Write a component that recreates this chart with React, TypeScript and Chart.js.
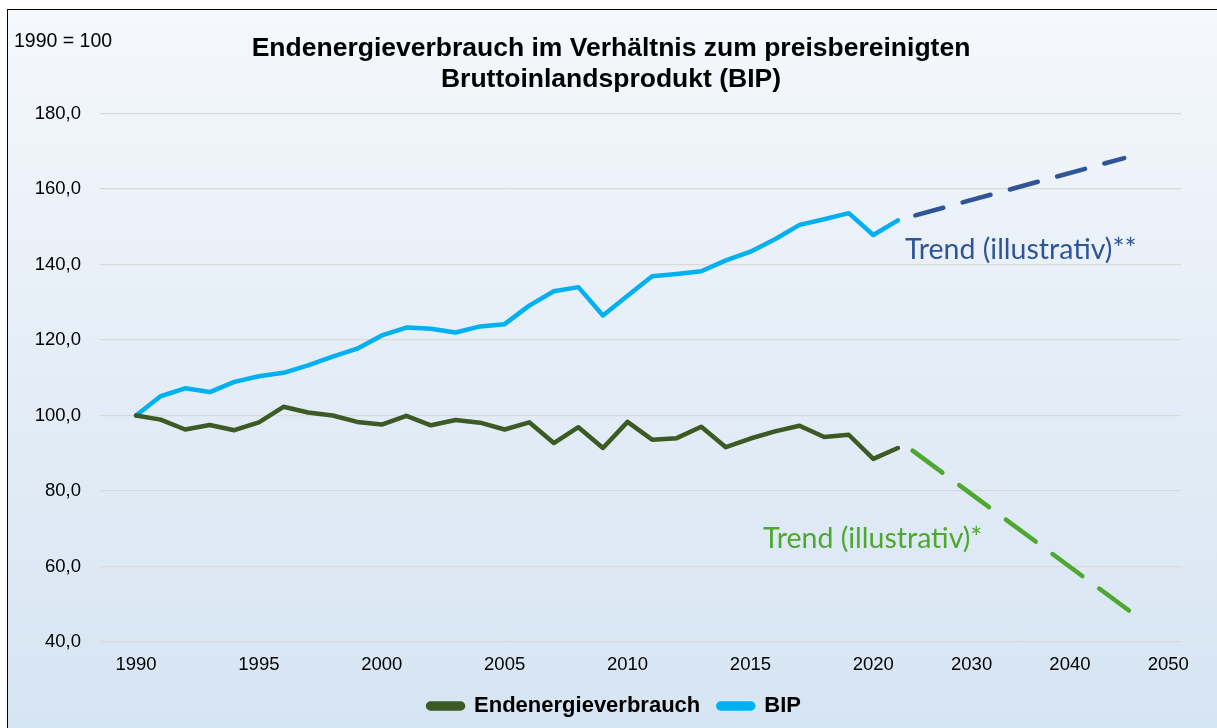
import React, { useEffect, useRef } from "react";
import { Chart, registerables } from "chart.js";

Chart.register(...registerables);

// ---- Data ----
const years: string[] = [
  "1990", "1991", "1992", "1993", "1994", "1995", "1996", "1997", "1998", "1999",
  "2000", "2001", "2002", "2003", "2004", "2005", "2006", "2007", "2008", "2009",
  "2010", "2011", "2012", "2013", "2014", "2015", "2016", "2017", "2018", "2019",
  "2020", "2021",
];

const bipValues: number[] = [
  100.0, 105.1, 107.2, 106.2, 108.9, 110.4, 111.3, 113.3, 115.6, 117.7,
  121.2, 123.3, 123.0, 122.0, 123.6, 124.2, 129.1, 132.9, 134.0, 126.5,
  131.7, 136.9, 137.5, 138.2, 141.1, 143.4, 146.7, 150.5, 152.0, 153.6,
  147.8, 151.7,
];

const energyValues: number[] = [
  100.0, 98.9, 96.3, 97.5, 96.1, 98.2, 102.3, 100.8, 100.0, 98.3,
  97.6, 99.9, 97.4, 98.8, 98.1, 96.3, 98.2, 92.7, 96.9, 91.4,
  98.3, 93.6, 94.0, 97.0, 91.6, 93.9, 95.8, 97.3, 94.3, 94.9,
  88.5, 91.4,
];

// illustrative trends (x in category-position units of the axis: 1990 = 0)
const bipTrendX: number[] = [31.71, 40.21];
const bipTrendY: number[] = [153.0, 168.2];
const energyTrendX: number[] = [31.6, 40.43];
const energyTrendY: number[] = [90.7, 48.2];

const xTickPositions: number[] = [0, 5, 10, 15, 20, 25, 30, 34, 38, 42];
const xTickLabels: string[] = ["1990", "1995", "2000", "2005", "2010", "2015", "2020", "2030", "2040", "2050"];

const titleLines: string[] = [
  "Endenergieverbrauch im Verhältnis zum preisbereinigten",
  "Bruttoinlandsprodukt (BIP)",
];
const unitLabel = "1990 = 100";
const bipTrendLabel = "Trend (illustrativ)**";
const energyTrendLabel = "Trend (illustrativ)*";

const COLOR_BIP = "#00B0F0";
const COLOR_ENERGY = "#3B5A24";
const COLOR_BIP_TREND = "#2F5597";
const COLOR_ENERGY_TREND = "#4EA72E";

const SANS = '"Liberation Sans", Arial, sans-serif';
const CALIBRI_LIKE = 'Lato, "Open Sans", sans-serif';

const textPlugin = {
  id: "textAnnotations",
  afterLayout(chart: any) {
    // center legend under the title like the original
    const lg = chart.legend;
    if (lg) {
      lg.left += 9;
      lg.right += 9;
    }
  },
  afterDraw(chart: any) {
    const ctx = chart.ctx as CanvasRenderingContext2D;
    const xs = chart.scales.x;
    const ys = chart.scales.y;
    ctx.save();
    ctx.fillStyle = "#000";
    ctx.textBaseline = "alphabetic";
    ctx.textAlign = "center";
    ctx.font = `bold 26.5px ${SANS}`;
    ctx.fillText(titleLines[0], 611, 56);
    ctx.fillText(titleLines[1], 611, 87);

    ctx.textAlign = "left";
    ctx.font = `19.5px ${SANS}`;
    ctx.fillText(unitLabel, 14, 47);

    ctx.font = `28.5px ${CALIBRI_LIKE}`;
    ctx.fillStyle = COLOR_BIP_TREND;
    ctx.fillText(bipTrendLabel, xs.getPixelForValue(31.29), ys.getPixelForValue(141.4));
    ctx.fillStyle = COLOR_ENERGY_TREND;
    ctx.fillText(energyTrendLabel, xs.getPixelForValue(25.51), ys.getPixelForValue(64.8));
    ctx.restore();
  },
};

export default function App() {
  const canvasRef = useRef<HTMLCanvasElement | null>(null);

  useEffect(() => {
    const canvas = canvasRef.current;
    if (!canvas) return;
    const chart = new Chart(canvas, {
      type: "line",
      data: {
        datasets: [
          {
            label: "Endenergieverbrauch",
            data: energyValues.map((v, i) => ({ x: i, y: v })),
            borderColor: COLOR_ENERGY,
            backgroundColor: COLOR_ENERGY,
            borderWidth: 4.5,
            pointRadius: 0,
            tension: 0,
            borderJoinStyle: "round",
            borderCapStyle: "round",
          },
          {
            label: "BIP",
            data: bipValues.map((v, i) => ({ x: i, y: v })),
            borderColor: COLOR_BIP,
            backgroundColor: COLOR_BIP,
            borderWidth: 4.5,
            pointRadius: 0,
            tension: 0,
            borderJoinStyle: "round",
            borderCapStyle: "round",
          },
          {
            label: "trendBIP",
            data: bipTrendX.map((x, i) => ({ x, y: bipTrendY[i] })),
            borderColor: COLOR_BIP_TREND,
            backgroundColor: COLOR_BIP_TREND,
            borderWidth: 4.5,
            borderDash: [29, 20],
            borderCapStyle: "round",
            pointRadius: 0,
          },
          {
            label: "trendEnergy",
            data: energyTrendX.map((x, i) => ({ x, y: energyTrendY[i] })),
            borderColor: COLOR_ENERGY_TREND,
            backgroundColor: COLOR_ENERGY_TREND,
            borderWidth: 4.5,
            borderDash: [37, 21],
            borderCapStyle: "round",
            pointRadius: 0,
          },
        ],
      },
      options: {
        responsive: false,
        animation: false,
        events: [],
        layout: { padding: { left: 30, right: 36, top: 113.5, bottom: 1 } },
        scales: {
          x: {
            type: "linear",
            min: -1.465,
            max: 42.52,
            grid: { display: false, drawTicks: false },
            border: { display: false },
            afterBuildTicks: (axis: any) => {
              axis.ticks = xTickPositions.map((v) => ({ value: v }));
            },
            afterFit: (axis: any) => {
              axis.height = 35;
            },
            ticks: {
              autoSkip: false,
              maxRotation: 0,
              padding: 12,
              color: "#000",
              font: { family: SANS, size: 18.5 },
              callback: (value: any) => {
                const idx = xTickPositions.indexOf(Number(value));
                return idx >= 0 ? xTickLabels[idx] : "";
              },
            },
          },
          y: {
            min: 40,
            max: 180,
            afterFit: (axis: any) => {
              axis.width = 70;
            },
            grid: { color: "#D9D9D9", lineWidth: 1.3, drawTicks: false },
            border: { display: false },
            ticks: {
              stepSize: 20,
              padding: 19,
              color: "#000",
              font: { family: SANS, size: 18.5 },
              callback: (value: any) => Number(value).toFixed(1).replace(".", ","),
            },
          },
        },
        plugins: {
          title: { display: false },
          tooltip: { enabled: false },
          legend: {
            display: true,
            position: "bottom",
            labels: {
              filter: (item: any) => item.text === "Endenergieverbrauch" || item.text === "BIP",
              boxWidth: 35,
              boxHeight: 5,
              useBorderRadius: true,
              borderRadius: 2.5,
              padding: 18,
              color: "#000",
              font: { family: SANS, size: 22, weight: "bold" },
            },
          },
        },
      },
      plugins: [textPlugin],
    } as any);
    return () => chart.destroy();
  }, []);

  return (
    <div
      style={{
        position: "fixed",
        left: 6.5,
        top: 8.5,
        right: 0,
        bottom: 0,
        borderLeft: "1.5px solid #000",
        borderTop: "1.5px solid #000",
        background: "linear-gradient(to bottom, #F5F8FC 0%, #E6EEF7 45%, #D6E5F3 100%)",
      }}
    >
      <canvas
        ref={canvasRef}
        width={1217}
        height={728}
        style={{ position: "fixed", left: 0, top: 0, width: 1217, height: 728 }}
      />
    </div>
  );
}
